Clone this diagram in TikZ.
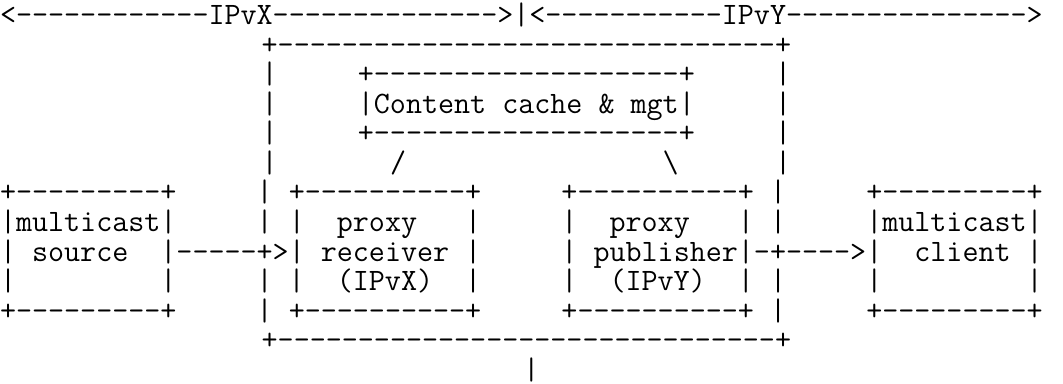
\documentclass[tikz,border=0pt]{standalone}
\usepackage{fontspec}
\usetikzlibrary{positioning}

% character cell of the fixed-pitch grid (65 columns x 13 rows)
\newcommand\cw{8.1769pt}
\newcommand\rh{14.769pt}
\newcommand\bl{5.0pt}
\newcommand\asciifont{\fontsize{15.575pt}{14.769pt}\selectfont\ttfamily\frenchspacing}

% place one line of the drawing: name, first column, row, text
\newcommand\asciiline[4]{%
  \node[ascii] (#1) at ({#2*\cw},{-(#3-0.5)*\rh-\bl}) {#4};}

\tikzset{
  ascii/.style={anchor=base west, inner sep=0pt, outer sep=0pt,
    font=\asciifont, text=black},
}

\begin{document}
\begin{tikzpicture}
  \fill[white] (0,0) rectangle (531.5pt,-192pt);
  \useasboundingbox (0,0) rectangle (531.5pt,-192pt);

  \asciiline{scope}{0}{1}{<------------IPvX-------------->|<-----------IPvY--------------->}
  \asciiline{proxytop}{16}{2}{+-------------------------------+}
  \asciiline{cachetop}{16}{3}{|~~~~~+-------------------+~~~~~|}
  \asciiline{cache}{16}{4}{|~~~~~|Content~cache~\&~mgt|~~~~~|}
  \asciiline{cachebottom}{16}{5}{|~~~~~+-------------------+~~~~~|}
  \asciiline{cachelinks}{16}{6}{|~~~~~~~/~~~~~~~~~~~~~~~~\textbackslash~~~~~~|}
  \asciiline{boxtop}{0}{7}{+---------+~~~~~|~+----------+~~~~~+----------+~|~~~~~+---------+}
  \asciiline{names}{0}{8}{|multicast|~~~~~|~|~~proxy~~~|~~~~~|~~proxy~~~|~|~~~~~|multicast|}
  \asciiline{flow}{0}{9}{|~source~~|-----+>|~receiver~|~~~~~|~publisher|-+---->|~~client~|}
  \asciiline{versions}{0}{10}{|~~~~~~~~~|~~~~~|~|~~(IPvX)~~|~~~~~|~~(IPvY)~~|~|~~~~~|~~~~~~~~~|}
  \asciiline{boxbottom}{0}{11}{+---------+~~~~~|~+----------+~~~~~+----------+~|~~~~~+---------+}
  \asciiline{proxybottom}{16}{12}{+-------------------------------+}
  \asciiline{tail}{32}{13}{|}
\end{tikzpicture}
\end{document}
